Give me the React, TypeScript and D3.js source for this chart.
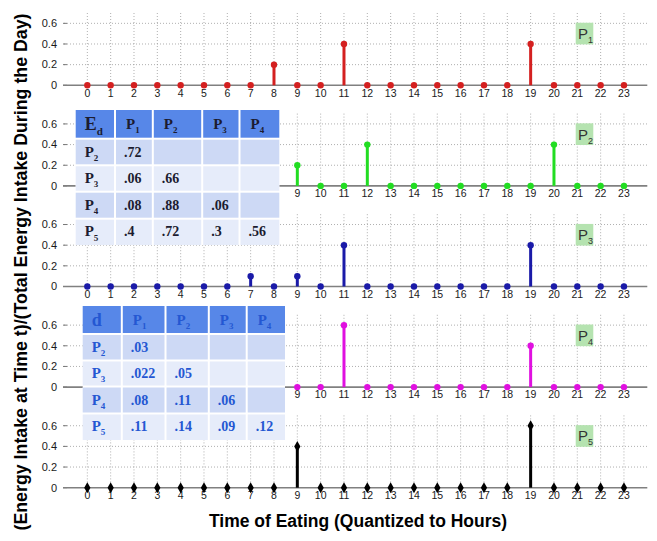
import React from "react";
import * as d3 from "d3";

const hours = d3.range(0, 24);
const yTicks = [0, 0.2, 0.4, 0.6];
const yTickLabels = ["0", "0.2", "0.4", "0.6"];
const panelNames = ["1", "2", "3", "4", "5"];
const panelColors = ["#d42020", "#22dd22", "#1a1aa8", "#e010e0", "#000000"];

// value per hour for each profile (non-listed hours are zero)
const p1Hours = [8, 11, 19];
const p1Values = [0.2, 0.4, 0.4];
const p2Hours = [9, 12, 20];
const p2Values = [0.2, 0.4, 0.4];
const p3Hours = [7, 9, 11, 19];
const p3Values = [0.1, 0.1, 0.4, 0.4];
const p4Hours = [11, 19];
const p4Values = [0.6, 0.4];
const p5Hours = [9, 19];
const p5Values = [0.4, 0.6];

const tableCols = ["1", "2", "3", "4"];
const tableRows = ["2", "3", "4", "5"];
const edValues = [[".72"], [".06", ".66"], [".08", ".88", ".06"], [".4", ".72", ".3", ".56"]];
const dValues = [[".03"], [".022", ".05"], [".08", ".11", ".06"], [".11", ".14", ".09", ".12"]];

const xLabel = "Time of Eating (Quantized to Hours)";
const yLabel = "(Energy Intake at Time t)/(Total Energy Intake During the Day)";

function series(hs: number[], vs: number[]) {
  return hours.map((h) => {
    const i = hs.indexOf(h);
    return { h, v: i >= 0 ? vs[i] : 0 };
  });
}
const allSeries = [
  series(p1Hours, p1Values),
  series(p2Hours, p2Values),
  series(p3Hours, p3Values),
  series(p4Hours, p4Values),
  series(p5Hours, p5Values),
];

const x = d3.scaleLinear().domain([-1, 24]).range([64, 647.3]);
const PANEL_TOP0 = 13;
const PANEL_STEP = 100.6;
const PANEL_H = 72.3;

function Panel({ idx }: { idx: number }) {
  const top = PANEL_TOP0 + idx * PANEL_STEP;
  const y = d3.scaleLinear().domain([0, 0.7]).range([top + PANEL_H, top]);
  const color = panelColors[idx];
  const data = allSeries[idx];
  const diamond = d3.symbol().type(d3.symbolDiamond).size(34)();
  const covered = idx === 1 || idx === 3; // tick labels hidden under the tables
  return (
    <g>
      {hours.map((h) => (
        <line key={"vg" + h} x1={x(h)} x2={x(h)} y1={y(0.7)} y2={y(0)} stroke="#9a9a9a" strokeWidth={0.8} strokeDasharray="1,2" />
      ))}
      {yTicks.slice(1).map((t) => (
        <line key={"hg" + t} x1={x(-1)} x2={x(24)} y1={y(t)} y2={y(t)} stroke="#9a9a9a" strokeWidth={0.8} strokeDasharray="1,2" />
      ))}
      {yTicks.map((t, i) => (
        <g key={"yt" + t}>
          <line x1={x(-1) - 1} x2={x(-1) + 3} y1={y(t)} y2={y(t)} stroke="#777" strokeWidth={1} />
          <text x={57} y={y(t) + 3.8} textAnchor="end" fontFamily="Liberation Sans, Arial, sans-serif" fontSize={11} fill="#1a1a1a">
            {yTickLabels[i]}
          </text>
        </g>
      ))}
      <line x1={x(-1) - 1} x2={x(24)} y1={y(0)} y2={y(0)} stroke="#808080" strokeWidth={1.6} />
      {hours
        .filter((h) => !(covered && h <= 8))
        .map((h) => (
          <text key={"xt" + h} x={x(h)} y={y(0) + 11.2} textAnchor="middle" fontFamily="Liberation Sans, Arial, sans-serif" fontSize={10.5} fill="#1a1a1a">
            {h}
          </text>
        ))}
      {data.map((d) => (
        <g key={"s" + d.h}>
          {d.v > 0 && <line x1={x(d.h)} x2={x(d.h)} y1={y(0)} y2={y(d.v)} stroke={color} strokeWidth={3} />}
          {idx === 4 ? (
            <path d={diamond || ""} transform={`translate(${x(d.h)},${y(d.v)})`} fill={color} />
          ) : (
            <circle cx={x(d.h)} cy={y(d.v)} r={3.2} fill={color} />
          )}
        </g>
      ))}
      <rect x={575.7} y={y(0.6) - 0.6} width={17.6} height={y(0.4) - y(0.6) + 1} fill="#b5e3b0" />
      <text x={578} y={y(0.4) - 5} fontFamily="Liberation Sans, Arial, sans-serif" fontSize={15} fill="#333">
        P<tspan fontSize={9} dy={4}>{panelNames[idx]}</tspan>
      </text>
    </g>
  );
}

function Sub({ main, sub, size, subSize }: { main: string; sub: string; size: number; subSize: number }) {
  return (
    <>
      <tspan fontSize={size}>{main}</tspan>
      <tspan fontSize={subSize} dy={size * 0.28}>{sub}</tspan>
    </>
  );
}

function Table({
  colEdges,
  rowEdges,
  headerMain,
  headerSub,
  values,
  textColor,
  headerTextColor,
}: {
  colEdges: number[];
  rowEdges: number[];
  headerMain: string;
  headerSub: string;
  values: string[][];
  textColor: string;
  headerTextColor: string;
}) {
  const font = "Liberation Serif, Times New Roman, serif";
  const rowFills = ["#5787e8", "#cdd9f5", "#e6ecfa", "#cdd9f5", "#e6ecfa"];
  const cells: React.ReactNode[] = [];
  for (let r = 0; r < 5; r++) {
    for (let c = 0; c < 5; c++) {
      const x0 = colEdges[c] + (c === 0 ? 0 : 1);
      const x1 = colEdges[c + 1] - (c === 4 ? 0 : 1);
      const y0 = rowEdges[r] + (r === 0 ? 0 : 1);
      const y1 = rowEdges[r + 1] - (r === 4 ? 0 : 1);
      cells.push(<rect key={`c${r}-${c}`} x={x0} y={y0} width={x1 - x0} height={y1 - y0} fill={rowFills[r]} />);
      const tx = colEdges[c] + 9;
      const ty = (rowEdges[r] + rowEdges[r + 1]) / 2 + 4.5;
      let content: React.ReactNode = null;
      if (r === 0 && c === 0) {
        content = (
          <text x={tx} y={ty + 1} fontFamily={font} fontWeight="bold" fill={headerTextColor}>
            <Sub main={headerMain} sub={headerSub} size={18} subSize={11} />
          </text>
        );
      } else if (r === 0) {
        content = (
          <text x={tx + 2} y={ty} fontFamily={font} fontWeight="bold" fill={headerTextColor}>
            <Sub main="P" sub={tableCols[c - 1]} size={15} subSize={9} />
          </text>
        );
      } else if (c === 0) {
        content = (
          <text x={tx} y={ty} fontFamily={font} fontWeight="bold" fill={textColor}>
            <Sub main="P" sub={tableRows[r - 1]} size={15} subSize={9} />
          </text>
        );
      } else {
        const v = values[r - 1][c - 1];
        if (v) {
          content = (
            <text x={tx} y={ty} fontFamily={font} fontWeight="bold" fontSize={14} fill={textColor}>
              {v}
            </text>
          );
        }
      }
      if (content) cells.push(<g key={`t${r}-${c}`}>{content}</g>);
    }
  }
  return (
    <g>
      <rect x={colEdges[0]} y={rowEdges[0]} width={colEdges[5] - colEdges[0]} height={rowEdges[5] - rowEdges[0]} fill="#fff" />
      {cells}
    </g>
  );
}

export default function App() {
  return (
    <svg width={657} height={541} style={{ display: "block", position: "absolute", left: 0, top: 0 }}>
      <rect width={657} height={541} fill="#fff" />
      {[0, 1, 2, 3, 4].map((i) => (
        <Panel key={i} idx={i} />
      ))}
      <Table
        colEdges={[75.7, 115, 152.8, 202.2, 239.5, 279.3]}
        rowEdges={[110, 138.7, 165.3, 191.7, 218.7, 245]}
        headerMain="E"
        headerSub="d"
        values={edValues}
        textColor="#1c1c30"
        headerTextColor="#1c1c30"
      />
      <Table
        colEdges={[82.7, 121.8, 165.5, 208.8, 246.7, 285]}
        rowEdges={[306, 334, 360.5, 386.5, 413.5, 440]}
        headerMain="d"
        headerSub=""
        values={dValues}
        textColor="#2457d2"
        headerTextColor="#2457d2"
      />
      <text x={358} y={527} textAnchor="middle" fontFamily="Liberation Sans, Arial, sans-serif" fontWeight="bold" fontSize={17.5} fill="#000">
        {xLabel}
      </text>
      <text
        transform="translate(26.5,272) rotate(-90)"
        textAnchor="middle"
        fontFamily="Liberation Sans, Arial, sans-serif"
        fontWeight="bold"
        fontSize={17.8}
        fill="#000"
      >
        {yLabel}
      </text>
    </svg>
  );
}
